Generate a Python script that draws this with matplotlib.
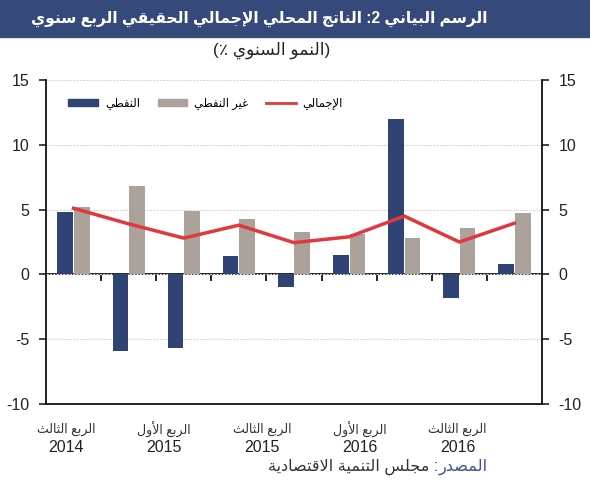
import matplotlib
matplotlib.use("Agg")
import matplotlib.pyplot as plt
import numpy as np
from matplotlib.patches import Rectangle, Patch
from matplotlib.lines import Line2D

# data (annual growth %)
quarters = ["Q3 2014", "Q4 2014", "Q1 2015", "Q2 2015", "Q3 2015",
            "Q4 2015", "Q1 2016", "Q2 2016", "Q3 2016"]
oil = [4.8, -5.9, -5.7, 1.4, -1.0, 1.5, 12.0, -1.8, 0.8]
non_oil = [5.2, 6.8, 4.9, 4.3, 3.3, 3.1, 2.8, 3.6, 4.7]
total = [5.1, 3.9, 2.8, 3.8, 2.45, 2.9, 4.5, 2.5, 3.95]
label_quarters = ["الربع الثالث", "الربع الأول", "الربع الثالث", "الربع الأول", "الربع الثالث"]
label_years = ["2014", "2015", "2015", "2016", "2016"]

# tiny arabic shaper: (isolated, final, initial, medial)
FORMS = {
    "ا": (0xFE8D, 0xFE8E, None, None), "أ": (0xFE83, 0xFE84, None, None),
    "إ": (0xFE87, 0xFE88, None, None), "آ": (0xFE81, 0xFE82, None, None),
    "ب": (0xFE8F, 0xFE90, 0xFE91, 0xFE92), "ة": (0xFE93, 0xFE94, None, None),
    "ت": (0xFE95, 0xFE96, 0xFE97, 0xFE98), "ث": (0xFE99, 0xFE9A, 0xFE9B, 0xFE9C),
    "ج": (0xFE9D, 0xFE9E, 0xFE9F, 0xFEA0), "ح": (0xFEA1, 0xFEA2, 0xFEA3, 0xFEA4),
    "خ": (0xFEA5, 0xFEA6, 0xFEA7, 0xFEA8), "د": (0xFEA9, 0xFEAA, None, None),
    "ذ": (0xFEAB, 0xFEAC, None, None), "ر": (0xFEAD, 0xFEAE, None, None),
    "ز": (0xFEAF, 0xFEB0, None, None), "س": (0xFEB1, 0xFEB2, 0xFEB3, 0xFEB4),
    "ش": (0xFEB5, 0xFEB6, 0xFEB7, 0xFEB8), "ص": (0xFEB9, 0xFEBA, 0xFEBB, 0xFEBC),
    "ض": (0xFEBD, 0xFEBE, 0xFEBF, 0xFEC0), "ط": (0xFEC1, 0xFEC2, 0xFEC3, 0xFEC4),
    "ظ": (0xFEC5, 0xFEC6, 0xFEC7, 0xFEC8), "ع": (0xFEC9, 0xFECA, 0xFECB, 0xFECC),
    "غ": (0xFECD, 0xFECE, 0xFECF, 0xFED0), "ف": (0xFED1, 0xFED2, 0xFED3, 0xFED4),
    "ق": (0xFED5, 0xFED6, 0xFED7, 0xFED8), "ك": (0xFED9, 0xFEDA, 0xFEDB, 0xFEDC),
    "ل": (0xFEDD, 0xFEDE, 0xFEDF, 0xFEE0), "م": (0xFEE1, 0xFEE2, 0xFEE3, 0xFEE4),
    "ن": (0xFEE5, 0xFEE6, 0xFEE7, 0xFEE8), "ه": (0xFEE9, 0xFEEA, 0xFEEB, 0xFEEC),
    "و": (0xFEED, 0xFEEE, None, None), "ى": (0xFEEF, 0xFEF0, None, None),
    "ي": (0xFEF1, 0xFEF2, 0xFEF3, 0xFEF4), "ؤ": (0xFE85, 0xFE86, None, None),
    "ئ": (0xFE89, 0xFE8A, 0xFE8B, 0xFE8C),
}
LAM_ALEF = {"ا": (0xFEFB, 0xFEFC, None, None), "أ": (0xFEF7, 0xFEF8, None, None),
            "إ": (0xFEF9, 0xFEFA, None, None), "آ": (0xFEF5, 0xFEF6, None, None)}
MIRROR = {"(": ")", ")": "("}


def shape(s):
    units = []
    i = 0
    while i < len(s):
        c = s[i]
        if c == "ل" and i + 1 < len(s) and s[i + 1] in LAM_ALEF:
            units.append(LAM_ALEF[s[i + 1]])
            i += 2
        else:
            units.append(FORMS.get(c, c))
            i += 1
    out = []
    for k, u in enumerate(units):
        if isinstance(u, str):
            out.append(u)
            continue
        prev = units[k - 1] if k > 0 else None
        nxt = units[k + 1] if k + 1 < len(units) else None
        jp = isinstance(prev, tuple) and prev[2] is not None
        jn = u[2] is not None and isinstance(nxt, tuple)
        idx = 3 if (jp and jn) else 1 if jp else 2 if jn else 0
        out.append(chr(u[idx]))
    out = out[::-1]
    res, run = [], []
    for ch in out:
        if ch.isascii() and ch.isalnum():
            run.append(ch)
        else:
            res.extend(run[::-1])
            run = []
            res.append(MIRROR.get(ch, ch))
    res.extend(run[::-1])
    return "".join(res)


plt.rcParams["font.family"] = ["Liberation Sans", "DejaVu Sans"]

navy = "#2f4475"
grey = "#aba39b"
red = "#e0383c"

fig = plt.figure(figsize=(5.9, 5.0), dpi=100)
ax = fig.add_axes([46 / 590, 96 / 500, 496 / 590, 324 / 500])

x = np.arange(len(quarters))
ax.bar(x - 0.15, oil, 0.285, color=navy, zorder=2)
ax.bar(x + 0.15, non_oil, 0.285, color=grey, zorder=2)
ax.plot(x, total, color=red, lw=2.5, zorder=3)

ax.set_xlim(-0.5, 8.5)
ax.set_ylim(-10, 15)
ax.set_yticks(range(-10, 16, 5))
ax.set_yticklabels(["-10", "-5", "0", "5", "10", "15"])
ax.set_xticks([])
ax.tick_params(axis="y", direction="out", length=5, width=1.2, labelsize=11.5,
               pad=7, left=True, right=True, labelleft=True, labelright=True,
               colors="#222222")
ax.grid(axis="y", color="#ddd8d4", lw=0.8, ls=(0, (2, 1)))
ax.set_axisbelow(True)
ax.spines["top"].set_visible(False)
for s in ["left", "right", "bottom"]:
    ax.spines[s].set_linewidth(1.3)
    ax.spines[s].set_color("#111111")

# zero line with ticks between quarters
sec = ax.secondary_xaxis(0.4)
sec.set_xticks(np.arange(0.5, 8, 1))
sec.tick_params(direction="out", length=5, width=1.2, labelbottom=False, labeltop=False)
sec.spines["bottom"].set_linewidth(1.3)
sec.spines["bottom"].set_color("#111111")

# x labels (as placed in the original)
for pos, q, yr in zip(np.linspace(0.04, 0.83, 5), label_quarters, label_years):
    ax.text(pos, -0.08, shape(q), transform=ax.transAxes, ha="center", va="center",
            fontsize=9, color="#333333")
    ax.text(pos, -0.133, yr, transform=ax.transAxes, ha="center", va="center",
            fontsize=11.5, color="#222222")

handles = [Patch(color=navy), Patch(color=grey), Line2D([], [], color=red, lw=2)]
ax.legend(handles, [shape("النفطي"), shape("غير النفطي"), shape("الإجمالي")],
          ncol=3, loc="center left", bbox_to_anchor=(0.045, 0.926), frameon=False,
          fontsize=8.3, handlelength=2.6, handleheight=0.55, handletextpad=0.6,
          columnspacing=1.5, borderaxespad=0, borderpad=0)

# title bar
fig.add_artist(Rectangle((0, 0.927), 1, 0.073, transform=fig.transFigure,
                         color="#354a7b", zorder=0))
fig.text(0.44, 0.963, shape("الرسم البياني 2: الناتج المحلي الإجمالي الحقيقي الربع سنوي"),
         ha="center", va="center", color="white", fontsize=11.2, fontweight="bold")
fig.text(0.461, 0.9, shape("(النمو السنوي ٪)"), ha="center", va="center",
         fontsize=12.3, color="#222222")

# source line
fig.canvas.draw()
t1 = fig.text(0.826, 0.058, shape("المصدر"), ha="right", va="baseline",
              fontsize=11.6, color="#3d5286")
bb = t1.get_window_extent(fig.canvas.get_renderer())
fig.text(bb.x0 / fig.bbox.width, 0.058, shape(": مجلس التنمية الاقتصادية"),
         ha="right", va="baseline", fontsize=11.6, color="#333333")

fig.savefig("out.png", dpi=100)
